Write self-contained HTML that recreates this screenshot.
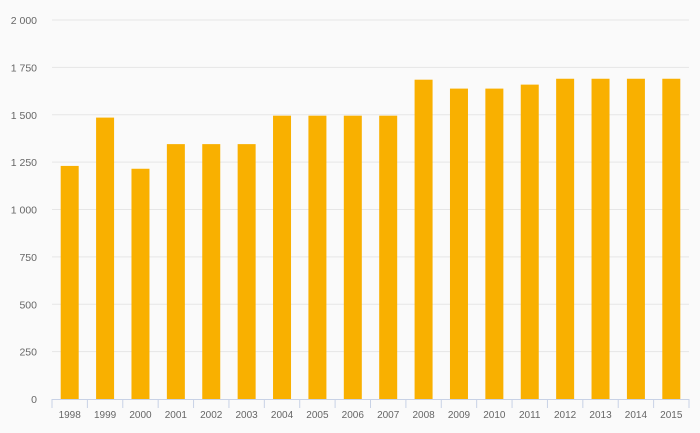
<!DOCTYPE html>
<html><head><meta charset="utf-8"><style>
html,body{margin:0;padding:0;background:#fafafa;}
svg{display:block;font-family:"Liberation Sans",sans-serif;}
</style></head><body>
<svg id="chart" width="700" height="433" viewBox="0 0 700 433">
<rect width="700" height="433" fill="#fafafa"/>
<g id="grid"></g><g id="bars"></g><g id="xaxis"></g><g id="yaxis"></g>
</svg>
<script>
const categories=["1998","1999","2000","2001","2002","2003","2004","2005","2006","2007","2008","2009","2010","2011","2012","2013","2014","2015"];
const values=[1230,1485,1215,1345,1345,1345,1495,1495,1495,1495,1685,1638,1638,1659,1690,1690,1690,1690];
const yTicks=[0,250,500,750,1000,1250,1500,1750,2000];
const yTickLabels=["0","250","500","750","1 000","1 250","1 500","1 750","2 000"];
const NS="http://www.w3.org/2000/svg";
const x0=52,x1=689,y0=399,yTop=20,yMax=2000;
const bw=(x1-x0)/categories.length;
const y=v=>y0-(v/yMax)*(y0-yTop);
function mk(t,a,p){const e=document.createElementNS(NS,t);for(const k in a)e.setAttribute(k,a[k]);p.appendChild(e);return e;}
const grid=document.getElementById('grid'),bars=document.getElementById('bars'),xa=document.getElementById('xaxis'),ya=document.getElementById('yaxis');
yTicks.forEach((t,i)=>{
  if(t>0){const l=mk('line',{x1:x0,x2:x1,y1:y(t),y2:y(t),stroke:'#e6e6e6','stroke-width':1},grid);
  
  }
  const tx=mk('text',{x:37,y:y(t)+4,'text-anchor':'end','font-size':10.5,fill:'#666'},ya);
  tx.textContent=yTickLabels[i];
  
  
});
categories.forEach((c,i)=>{
  const cx=x0+bw*(i+0.5);
  const r=mk('rect',{x:cx-9,y:y(values[i]),width:18,height:y0-y(values[i]),fill:'#f9b000'},bars);
  
  
  const tx=mk('text',{x:cx,y:418,'text-anchor':'middle','font-size':10,fill:'#666'},xa);
  tx.textContent=c;
  
  
});
for(let i=0;i<=categories.length;i++){
  const tx=x0+bw*i;
  const t=mk('line',{x1:tx,x2:tx,y1:y0,y2:408,stroke:'#c8d2e6','stroke-width':1},xa);
  
  
}
const al=mk('line',{x1:x0,x2:x1,y1:y0+0.5,y2:y0+0.5,stroke:'#c8d2e6','stroke-width':1},xa);


</script>
</body></html>
